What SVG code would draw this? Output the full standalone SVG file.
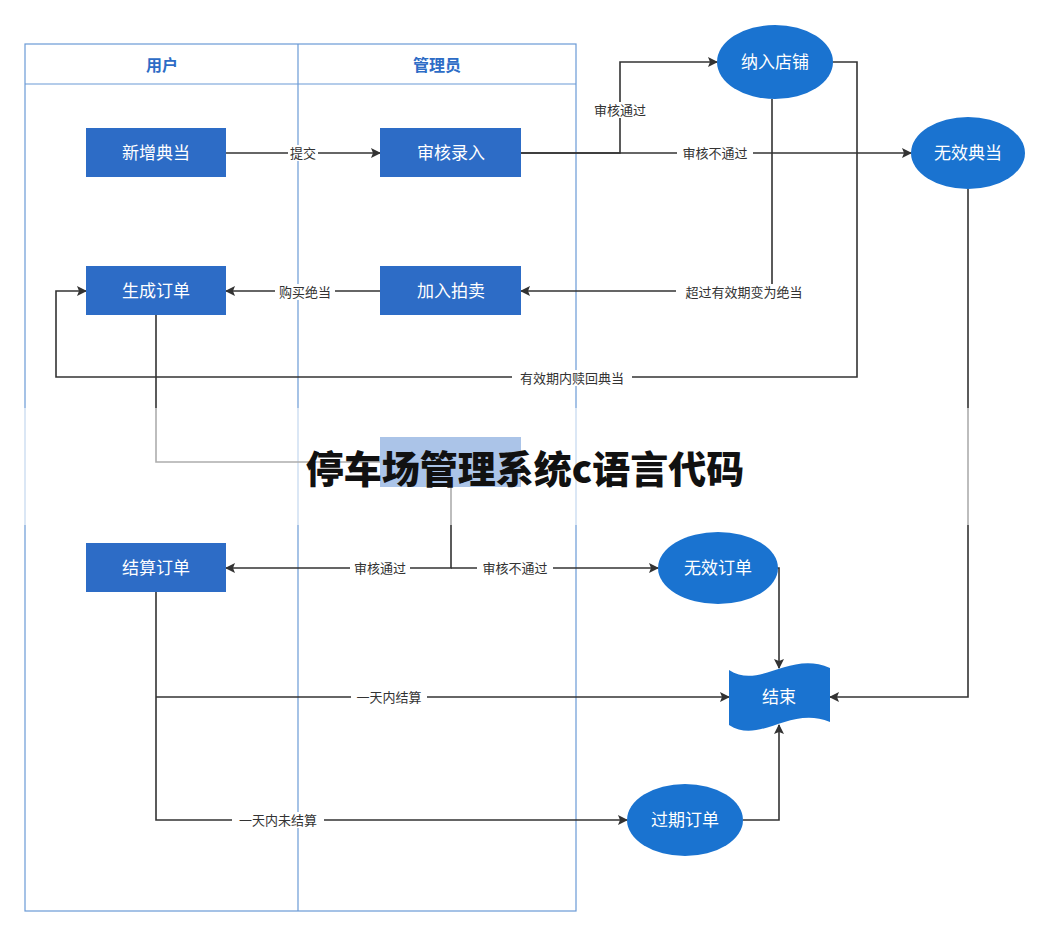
<svg xmlns="http://www.w3.org/2000/svg" width="1049" height="936" viewBox="0 0 1049 936">
<defs>
<marker id="ar" viewBox="0 0 10 10" refX="9" refY="5" markerWidth="10" markerHeight="10" markerUnits="userSpaceOnUse" orient="auto"><path d="M0,0 L10,5 L0,10 L2,5 Z" fill="#333"/></marker>
</defs>
<style>
.box{fill:#2d6cc6}
.ell{fill:#1a73d0}
.nt{font-family:"Liberation Sans","Noto Sans CJK SC",sans-serif;font-size:17px;fill:#fff;text-anchor:middle;dominant-baseline:central}
.ln{fill:none;stroke:#333;stroke-width:1.6}
.lb{font-family:"Liberation Sans","Noto Sans CJK SC",sans-serif;font-size:13px;fill:#333;text-anchor:middle;dominant-baseline:central}
.lbg{fill:#fff}
.lane{fill:none;stroke:#6a9ad6;stroke-width:1.2}
.hd{font-family:"Liberation Sans","Noto Sans CJK SC",sans-serif;font-size:16px;font-weight:bold;fill:#2d6cc6;text-anchor:middle;dominant-baseline:central}
</style>
<rect width="1049" height="936" fill="#fff"/>
<g id="lanes">
<rect class="lane" x="25" y="44" width="551" height="867"/>
<line class="lane" x1="25" y1="84" x2="576" y2="84"/>
<line class="lane" x1="298" y1="44" x2="298" y2="911" stroke-width="2"/>
<text class="hd" x="162" y="65">用户</text>
<text class="hd" x="437" y="65">管理员</text>
</g>
<g id="connectors">
<path class="ln" d="M226,153 H380" marker-end="url(#ar)"/>
<path class="ln" d="M521,153 H620 V62 H717" marker-end="url(#ar)"/>
<path class="ln" d="M521,153 H911" marker-end="url(#ar)"/>
<path class="ln" d="M772,99 V291 H521" marker-end="url(#ar)"/>
<path class="ln" d="M380,291 H226" marker-end="url(#ar)"/>
<path class="ln" d="M833,62 H857 V377 H56 V291 H86" marker-end="url(#ar)"/>
<path class="ln" d="M968,189 V697 H830" marker-end="url(#ar)"/>
<path class="ln" d="M156,315 V462 H380"/>
<path class="ln" d="M451,487 V568 H226" marker-end="url(#ar)"/>
<path class="ln" d="M451,568 H658" marker-end="url(#ar)"/>
<path class="ln" d="M776,568 H779 V668" marker-end="url(#ar)"/>
<path class="ln" d="M156,592 V820 H627" marker-end="url(#ar)"/>
<path class="ln" d="M156,697 H729" marker-end="url(#ar)"/>
<path class="ln" d="M743,820 H779 V725" marker-end="url(#ar)"/>
<rect class="lbg" x="288" y="145" width="30" height="16"/><text class="lb" x="303" y="153">提交</text>
<rect class="lbg" x="590" y="102" width="60" height="16"/><text class="lb" x="620" y="110">审核通过</text>
<rect class="lbg" x="677" y="145" width="76" height="16"/><text class="lb" x="715" y="153">审核不通过</text>
<rect class="lbg" x="676" y="284" width="136" height="16"/><text class="lb" x="744" y="292">超过有效期变为绝当</text>
<rect class="lbg" x="275" y="284" width="60" height="16"/><text class="lb" x="305" y="292">购买绝当</text>
<rect class="lbg" x="512" y="370" width="120" height="16"/><text class="lb" x="572" y="378">有效期内赎回典当</text>
<rect class="lbg" x="350" y="560" width="60" height="16"/><text class="lb" x="380" y="568">审核通过</text>
<rect class="lbg" x="477" y="560" width="76" height="16"/><text class="lb" x="515" y="568">审核不通过</text>
<rect class="lbg" x="351" y="689" width="76" height="16"/><text class="lb" x="389" y="697">一天内结算</text>
<rect class="lbg" x="232" y="812" width="92" height="16"/><text class="lb" x="278" y="820">一天内未结算</text>
</g>
<g id="n1"><rect class="box" x="86" y="128" width="140" height="49"/><text class="nt" x="156" y="153">新增典当</text></g>
<g id="n2"><rect class="box" x="380" y="128" width="141" height="49"/><text class="nt" x="451" y="153">审核录入</text></g>
<g id="n3"><rect class="box" x="86" y="266" width="140" height="49"/><text class="nt" x="156" y="291">生成订单</text></g>
<g id="n4"><rect class="box" x="380" y="266" width="141" height="49"/><text class="nt" x="451" y="291">加入拍卖</text></g>
<g id="n5"><rect class="box" x="380" y="437" width="141" height="50"/></g>
<g id="n6"><rect class="box" x="86" y="543" width="140" height="49"/><text class="nt" x="156" y="568">结算订单</text></g>
<g id="e1"><ellipse class="ell" cx="775" cy="62" rx="58" ry="37"/><text class="nt" x="775" y="62">纳入店铺</text></g>
<g id="e2"><ellipse class="ell" cx="968" cy="153" rx="57" ry="36"/><text class="nt" x="968" y="153">无效典当</text></g>
<g id="e3"><ellipse class="ell" cx="718" cy="568" rx="60" ry="36"/><text class="nt" x="718" y="568">无效订单</text></g>
<g id="e4"><ellipse class="ell" cx="685" cy="820" rx="58" ry="36"/><text class="nt" x="685" y="820">过期订单</text></g>
<g id="end"><path class="ell" d="M729,670 C760,690 790,650 830,668 V722 C790,705 760,745 729,725 Z"/><text class="nt" x="779" y="697">结束</text></g>
<rect x="0" y="408" width="1049" height="117" fill="#fff" opacity="0.6"/>
<text x="525" y="466" font-family="'Noto Sans CJK SC',sans-serif" font-size="38" font-weight="900" fill="#111" text-anchor="middle" dominant-baseline="central">停车场管理系统c语言代码</text>
</svg>
